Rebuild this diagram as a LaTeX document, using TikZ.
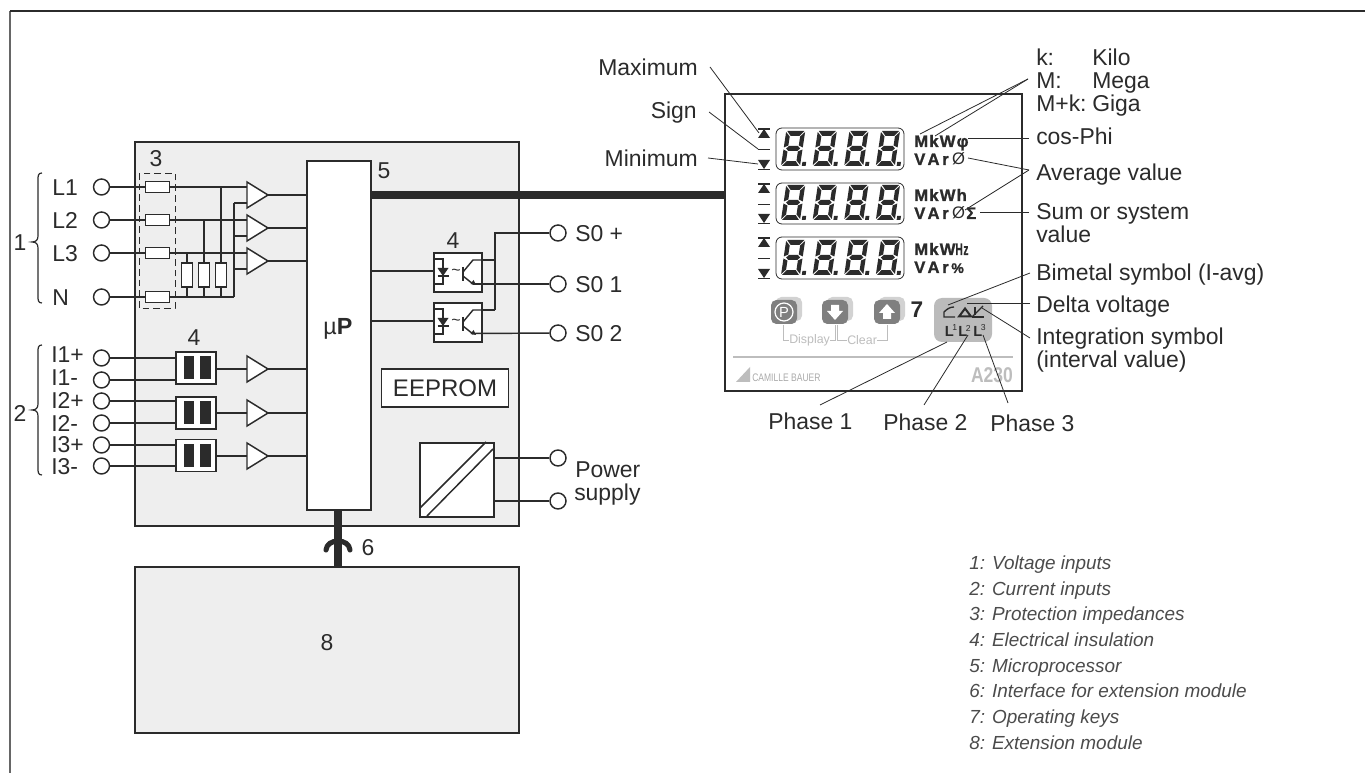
\documentclass[tikz,border=0pt]{standalone}
\usepackage{graphicx}
\usepackage{fontspec}
\setmainfont{Liberation Sans}
\newfontfamily\lcdfont[LetterSpace=7,BoldFeatures={FakeBold=1.2}]{Liberation Sans}
\usetikzlibrary{calc}
\definecolor{ink}{HTML}{2B2B2B}
\definecolor{panel}{HTML}{EEEEEE}
\definecolor{keydark}{HTML}{7F7F7F}
\definecolor{keylight}{HTML}{D2D2D2}
\definecolor{pale}{HTML}{BDBDBD}
\definecolor{plate}{HTML}{BBBBBB}
\tikzset{
  x=0.75pt,y=-0.75pt,
  wire/.style={draw=ink,line width=1.1pt},
  bus/.style={draw=ink,line width=5.6pt},
  block/.style={draw=ink,line width=1.2pt,fill=panel},
  whitebox/.style={draw=ink,line width=1.2pt,fill=white,inner sep=0pt},
  term/.style={circle,draw=ink,line width=1.1pt,fill=white,minimum size=12pt,inner sep=0pt},
  res/.style={rectangle,draw=ink,line width=1.1pt,fill=white,minimum width=18pt,minimum height=8pt,inner sep=0pt},
  vres/.style={rectangle,draw=ink,line width=1.1pt,fill=white,minimum width=8.5pt,minimum height=18pt,inner sep=0pt},
  lbl/.style={font=\fontsize{17.2}{20}\selectfont,text=ink,inner sep=0pt,anchor=west,text height=12.3pt,text depth=0pt},
  lblr/.style={font=\fontsize{17.2}{20}\selectfont,text=ink,inner sep=0pt,anchor=east,text height=12.3pt,text depth=0pt},
  num/.style={font=\fontsize{17.2}{20}\selectfont,text=ink,inner sep=0pt,text height=12.3pt,text depth=0pt},
  legend/.style={font=\fontsize{14.2}{16}\selectfont\itshape,text=ink!85,inner sep=0pt,anchor=west,text height=10.2pt,text depth=0pt},
  lcd/.style={font=\lcdfont\fontsize{12.5}{14}\selectfont\bfseries,text=ink,inner sep=0pt,anchor=west,text height=9pt,text depth=0pt},
  lead/.style={draw=ink,line width=0.6pt},
  keybtn/.style={fill=keydark,rounded corners=4pt},
  keyshadow/.style={fill=keylight,rounded corners=4pt},
  keylabel/.style={font=\fontsize{9.3}{11}\selectfont,text=pale,inner sep=0pt},
  bracket/.style={draw=pale,line width=0.7pt},
}
\newcommand{\ampl}[2]{%
  \draw[wire,fill=white] (247,#2-13)--(268,#2)--(247,#2+13)--cycle;
  \coordinate (#1o) at (268,#2);
  \coordinate (#1a) at (247,#2-8);
  \coordinate (#1b) at (247,#2+8);
  \coordinate (#1i) at (247,#2);
}
\newcommand{\isol}[2]{%
  \node[whitebox,minimum width=30pt,minimum height=24pt] (#1) at (196,#2) {};
  \fill[ink] (183.5,#2-11.5) rectangle (194,#2+11.5);
  \fill[ink] (199.5,#2-11.5) rectangle (211,#2+11.5);
}
\newcommand{\segdigit}[2]{%
\begin{scope}[shift={(#1,#2)},xslant=0.15]
  \fill[ink] (1,-35)--(18,-35)--(14,-30.2)--(5,-30.2)--cycle;
  \fill[ink] (1,0)--(18,0)--(14,-4.8)--(5,-4.8)--cycle;
  \fill[ink] (2.5,-17.5)--(5,-20)--(14,-20)--(16.5,-17.5)--(14,-15)--(5,-15)--cycle;
  \fill[ink] (0,-34)--(4.3,-29.5)--(4.3,-20.5)--(0,-18.5)--cycle;
  \fill[ink] (0,-1)--(4.3,-5.5)--(4.3,-14.5)--(0,-16.5)--cycle;
  \fill[ink] (19,-34)--(14.7,-29.5)--(14.7,-20.5)--(19,-18.5)--cycle;
  \fill[ink] (19,-1)--(14.7,-5.5)--(14.7,-14.5)--(19,-16.5)--cycle;
  \fill[ink] (20.8,-4) rectangle (24.6,0);
\end{scope}}
\newcommand{\lcdrow}[2]{%
  \draw[draw=ink,line width=0.6pt,rounded corners=4.5pt] (776,#1) rectangle (904,#2);
  \foreach \k in {0,1,2,3} {\segdigit{781+31.6*\k}{#2-4}}
  \fill[ink] (758,#1+0.5) rectangle (770,#1+1.7);
  \fill[ink] (764,#1+1)--(770,#1+10)--(758,#1+10)--cycle;
  \fill[ink] (758,#1+21) rectangle (770,#1+22.3);
  \fill[ink] (758,#2-10)--(770,#2-10)--(764,#2-1)--cycle;
  \fill[ink] (758,#2-1.2) rectangle (770,#2);
}
\newcommand{\varword}{V\hspace{1.6pt}A\hspace{2pt}r}
\begin{document}
\begin{tikzpicture}
\useasboundingbox (0,0) rectangle (1365,773);
% frame
\coordinate (fa) at (10,773);
\coordinate (fb) at (10,11);
\coordinate (fc) at (1365,11);
\draw[draw=ink!72,line width=1.5pt] (fa)--(fb);
\draw[draw=ink,line width=1.1pt] (fb)--(fc);
% main blocks
\path[block] (135,142) rectangle (519,526);
\path[block] (135,567) rectangle (519,733);
\node[num] (n8) at (327,642) {8};
% interface
\draw[draw=ink,line width=5.4pt] (338,509)--(338,567);
\draw[draw=ink,line width=3.8pt,line cap=round] (326,550) .. controls (327,538) and (349,538) .. (350,550);
\node[num] (n6) at (368,547) {6};
% uP
\node[whitebox,anchor=north west,minimum width=48pt,minimum height=261.75pt] (up) at (306,160) {};
\node[font=\fontsize{17.5}{20}\selectfont,text=ink,inner sep=0pt] (uplabel) at (338,329) {µ\textbf{P}};
\node[num] (n5) at (384,170) {5};
% bus
\coordinate (busL) at (370,195);
\coordinate (busR) at (725,195);
\draw[bus] (busL)--(busR);
% voltage inputs
\foreach \n/\y in {L1/187,L2/220,L3/253,N/297} {
  \node[term] (t\n) at (101.5,\y) {};
  \node[lbl] (l\n) at (52,\y) {\n};
  \node[res] (r\n) at (157.5,\y) {};
}
\ampl{a1}{195}\ampl{a2}{228}\ampl{a3}{261}
\foreach \n in {L1,L2,L3,N} {\draw[wire] (t\n)--(r\n);}
\draw[wire] (rL1)--(a1a);
\draw[wire] (rL2)--(a2a);
\draw[wire] (rL3)--(a3a);
\coordinate (nj) at (234,297);
\draw[wire] (rN)--(nj);
\draw[wire] (nj)--(234,203);
\draw[wire] (234,203)--(a1b);
\draw[wire] (234,236)--(a2b);
\draw[wire] (234,269)--(a3b);
\foreach \n/\x/\s in {a/187/L3,b/204/L2,c/221/L1} {
  \node[vres] (v\n) at (\x,275) {};
  \draw[wire] (v\n.north)--(v\n.north |- r\s);
  \draw[wire] (v\n.south)--(v\n.south |- rN);
}
\foreach \n in {1,2,3} {\draw[wire] (a\n o)--(a\n o -| up.west);}
\draw[draw=ink,line width=0.65pt,dash pattern=on 5pt off 3pt] (139,173) rectangle (175,308);
\node[num] (n3) at (156,158) {3};
% braces
\draw[wire,line width=0.9pt] (42,173) .. controls (38,173) and (38,176) .. (38,180) -- (38,236) .. controls (38,240) and (36,242) .. (32,242) .. controls (36,242) and (38,244) .. (38,248) -- (38,296) .. controls (38,300) and (38,303) .. (42,303);
\node[num] (n1) at (20,242) {1};
\draw[wire,line width=0.9pt] (42,345) .. controls (38,345) and (38,348) .. (38,352) -- (38,404) .. controls (38,408) and (36,410) .. (32,410) .. controls (36,410) and (38,412) .. (38,416) -- (38,468) .. controls (38,472) and (38,475) .. (42,475);
\node[num] (n2) at (20,413) {2};
% current inputs
\foreach \n/\t/\y/\ly in {a/I1+/358/354,b/I1-/380/377,c/I2+/401/400,d/I2-/423/423,e/I3+/445/444,f/I3-/466/466} {
  \node[term] (t\n) at (101.5,\y) {};
  \node[lbl] (l\n) at (51,\ly) {\t};
}
\isol{is1}{368}\isol{is2}{413}\isol{is3}{455.5}
\ampl{a4}{369}\ampl{a5}{413}\ampl{a6}{456}
\draw[wire] (ta)--(ta -| is1.west);
\draw[wire] (tb)--(tb -| is1.west);
\draw[wire] (tc)--(tc -| is2.west);
\draw[wire] (td)--(td -| is2.west);
\draw[wire] (te)--(te -| is3.west);
\draw[wire] (tf)--(tf -| is3.west);
\foreach \n/\m in {is1/a4,is2/a5,is3/a6} {\draw[wire] (\n.east |- \m i)--(\m i);
  \draw[wire] (\m o)--(\m o -| up.west);}
\node[num] (n4a) at (194,337) {4};
% optocouplers
\foreach \n/\s in {p/0,q/50} {
\begin{scope}[shift={(0,\s)}]
  \node[whitebox,anchor=north west,minimum width=36pt,minimum height=29.5pt] (\n) at (433,252) {};
  \draw[wire] (up.east |- 0,271)--(433,271);
  \draw[wire] (433,259)--(443,259)--(443,284)--(433,284);
  \fill[ink] (437.5,268)--(448.5,268)--(443,276)--cycle;
  \draw[wire] (437.5,276)--(448.5,276);
  \node[font=\fontsize{12}{14}\selectfont,text=ink,inner sep=0pt] (\n tilde) at (456,272) {\textasciitilde};
  \draw[wire,line width=1.3pt] (463,267)--(463,281);
  \draw[wire] (463,272)--(473,260)--(481,260);
  \draw[wire] (463,276)--(473,284);
  \fill[ink] (476,285)--(470.5,284)--(473.5,280)--cycle;
\end{scope}}
\node[num] (n4b) at (453,240) {4};
\node[term] (s0p) at (558,233) {};
\node[term] (s01) at (558,284) {};
\node[term] (s02) at (558,333) {};
\node[lbl] (ls0p) at (575,233) {S0 +};
\node[lbl] (ls01) at (575,284) {S0 1};
\node[lbl] (ls02) at (575,333) {S0 2};
\coordinate (bus2) at (495,310);
\draw[wire] (s0p)-|(bus2);
\draw[wire] (bus2)--(bus2 -| q.east);
\draw[wire] (481,260)--(495,260);
\draw[wire] (473,284)--(s01);
\draw[wire] (473,333.5)--(s02);
% EEPROM
\node[whitebox,minimum width=95.5pt,minimum height=28.5pt,font=\fontsize{18}{20}\selectfont,text=ink] (eeprom) at (445,388) {EEPROM};
% converter
\node[whitebox,anchor=north west,minimum width=55.5pt,minimum height=55.5pt] (conv) at (419,442) {};
\draw[wire] (420,508)--(486,442);
\draw[wire] (427,516)--(493,449);
\node[term] (pw1) at (558,458) {};
\node[term] (pw2) at (558,501) {};
\draw[wire] (pw1)--(pw1 -| conv.east);
\draw[wire] (pw2)--(pw2 -| conv.east);
\node[lbl] (lpow) at (575,469) {Power};
\node[lbl] (lsup) at (574,492) {supply};
% display
\draw[draw=ink,line width=1.2pt,fill=white] (725,94) rectangle (1022,391);
\lcdrow{128}{170}
\lcdrow{183}{224}
\lcdrow{237}{279}
\node[lcd] (m1) at (914,141) {MkWφ};
\node[lcd] (v1) at (914,159) {\varword\hspace{2.5pt}{\mdseries Ø}};
\node[lcd] (m2) at (914,195) {MkWh};
\node[lcd] (v2) at (914,213) {\varword\hspace{2.5pt}{\mdseries Ø}\hspace{1pt}Σ};
\node[lcd] (m3) at (914,249) {MkW\scalebox{0.6}[1]{Hz}};
\node[lcd] (v3) at (914,267) {\varword\hspace{2pt}{\fontsize{10.5}{12}\selectfont\%}};
% keys
\fill[keyshadow] (776,297) rectangle (802,321);
\fill[keyshadow] (827,297) rectangle (853,321);
\fill[keyshadow] (879,297) rectangle (905,321);
\fill[keybtn] (771,300) rectangle (797,324);
\fill[keybtn] (822,300) rectangle (848,324);
\fill[keybtn] (874,300) rectangle (900,324);
\node[circle,draw=white,line width=0.9pt,minimum size=13.5pt,inner sep=0pt,font=\fontsize{11}{11}\selectfont,text=white] (kp) at (784,312) {P};
\fill[white] (831,305)--(839,305)--(839,311)--(843,311)--(835,320)--(827,311)--(831,311)--cycle;
\fill[white] (883,319)--(891,319)--(891,313)--(895,313)--(887,304)--(879,313)--(883,313)--cycle;
\node[font=\fontsize{17}{20}\selectfont\bfseries,text=ink,inner sep=0pt] (n7) at (917,310) {7};
\node[keylabel,anchor=west] (kd) at (789,340) {Display};
\node[keylabel,anchor=west] (kc) at (847,340) {Clear};
\draw[bracket] (783,325)--(783,340)--(kd.west);
\draw[bracket] (kd.east)--(835,340)--(835,325);
\draw[bracket] (837.5,325)--(837.5,340)--(kc.west);
\draw[bracket] (kc.east)--(887,340)--(887,325);
% separator and logo
\draw[draw=pale,line width=0.9pt] (733,357)--(1013,357);
\fill[pale] (736,382)--(750,367)--(750,382)--cycle;
\node[font=\fontsize{8.2}{10}\selectfont,text=pale!90!black,inner sep=0pt,anchor=west] (brand) at (752,378) {\scalebox{0.78}[1]{CAMILLE BAUER}};
\node[font=\fontsize{16}{20}\selectfont\bfseries,text=pale,inner sep=0pt] (model) at (992,375) {\scalebox{0.82}[1]{A230}};
% symbol plate
\fill[plate,rounded corners=6pt] (934,298) rectangle (992,342);
\draw[draw=ink,line width=1pt] (955,317)--(944,317)--(944,312) .. controls (947,309) and (950,307) .. (954,307);
\draw[draw=ink,line width=1.5pt] (965,308.5)--(971,316.5)--(959,316.5)--cycle;
\draw[draw=ink,line width=1pt] (972,317)--(983,306);
\draw[draw=ink,line width=1pt] (972,317)--(984,317);
\draw[draw=ink,line width=1pt] (975,307)--(975,315);
\foreach \i/\x in {1/944.5,2/958,3/973} {
  \node[font=\fontsize{11}{12}\selectfont\bfseries,text=ink,inner sep=0pt,anchor=west] (sl\i) at (\x,331) {L};
  \node[font=\fontsize{6.5}{8}\selectfont,text=ink,inner sep=0pt,anchor=west] (sd\i) at (\x+7.5,328) {\i};
}
% leader anchors
\coordinate (eMax) at (759,133);
\coordinate (eSign) at (758,149);
\coordinate (eMin) at (758,164);
\coordinate (kM) at (1028,79);
\coordinate (e1) at (920,134);
\coordinate (e2) at (935,136);
\coordinate (ePhi) at (968,138);
\coordinate (eAvg) at (1029,170);
\coordinate (e3) at (968,158);
\coordinate (e4) at (965,210);
\coordinate (eSum) at (980,212);
\coordinate (eBim) at (948,305);
\coordinate (eDel) at (967,303);
\coordinate (eInt) at (982,308);
\coordinate (ePh1) at (947,342);
\coordinate (ePh2) at (968,335);
\coordinate (ePh3) at (983,335);
% labels, left side
\node[lblr] (lMax) at (698,67) {Maximum};
\node[lblr] (lSign) at (697,110) {Sign};
\node[lblr] (lMin) at (698,158) {Minimum};
\draw[lead] (710,67)--(eMax);
\draw[lead] (709,112)--(eSign);
\draw[lead] (708,158)--(eMin);
% labels, right side
\node[lbl] (lk) at (1036,57) {k:};
\node[lbl] (lkv) at (1092,57) {Kilo};
\node[lbl] (lM) at (1036,80) {M:};
\node[lbl] (lMv) at (1092,80) {Mega};
\node[lbl] (lG) at (1036,103) {M+k:};
\node[lbl] (lGv) at (1092,103) {Giga};
\node[lbl] (lcos) at (1036,136) {cos-Phi};
\node[lbl] (lavg) at (1036,172) {Average value};
\node[lbl] (lsum) at (1036,211) {Sum or system};
\node[lbl] (lsum2) at (1036,234) {value};
\node[lbl] (lbim) at (1036,272) {Bimetal symbol (I-avg)};
\node[lbl] (ldel) at (1036,304) {Delta voltage};
\node[lbl] (lint) at (1036,336) {Integration symbol};
\node[lbl] (lint2) at (1036,359) {(interval value)};
\draw[lead] (kM)--(e1);
\draw[lead] (kM)--(e2);
\draw[lead] (1029,138)--(ePhi);
\draw[lead] (eAvg)--(e3);
\draw[lead] (eAvg)--(e4);
\draw[lead] (1029,212)--(eSum);
\draw[lead] (1030,273)--(eBim);
\draw[lead] (1030,303)--(eDel);
\draw[lead] (1030,338)--(eInt);
% phases
\node[lbl] (lp1) at (768,421) {Phase 1};
\node[lbl] (lp2) at (883,422) {Phase 2};
\node[lbl] (lp3) at (990,423) {Phase 3};
\draw[lead] (820,405)--(ePh1);
\draw[lead] (924,405)--(ePh2);
\draw[lead] (1008,403)--(ePh3);
% legend
\foreach \t/\y/\i in {1: Voltage inputs/563/a,2: Current inputs/589/b,3: Protection impedances/614/c,4: Electrical insulation/640/d,5: Microprocessor/666/e,6: Interface for extension module/691/f,7: Operating keys/717/g,8: Extension module/743/h} {
  \node[legend] (leg\i) at (969,\y) {\t};
}
\end{tikzpicture}
\end{document}
